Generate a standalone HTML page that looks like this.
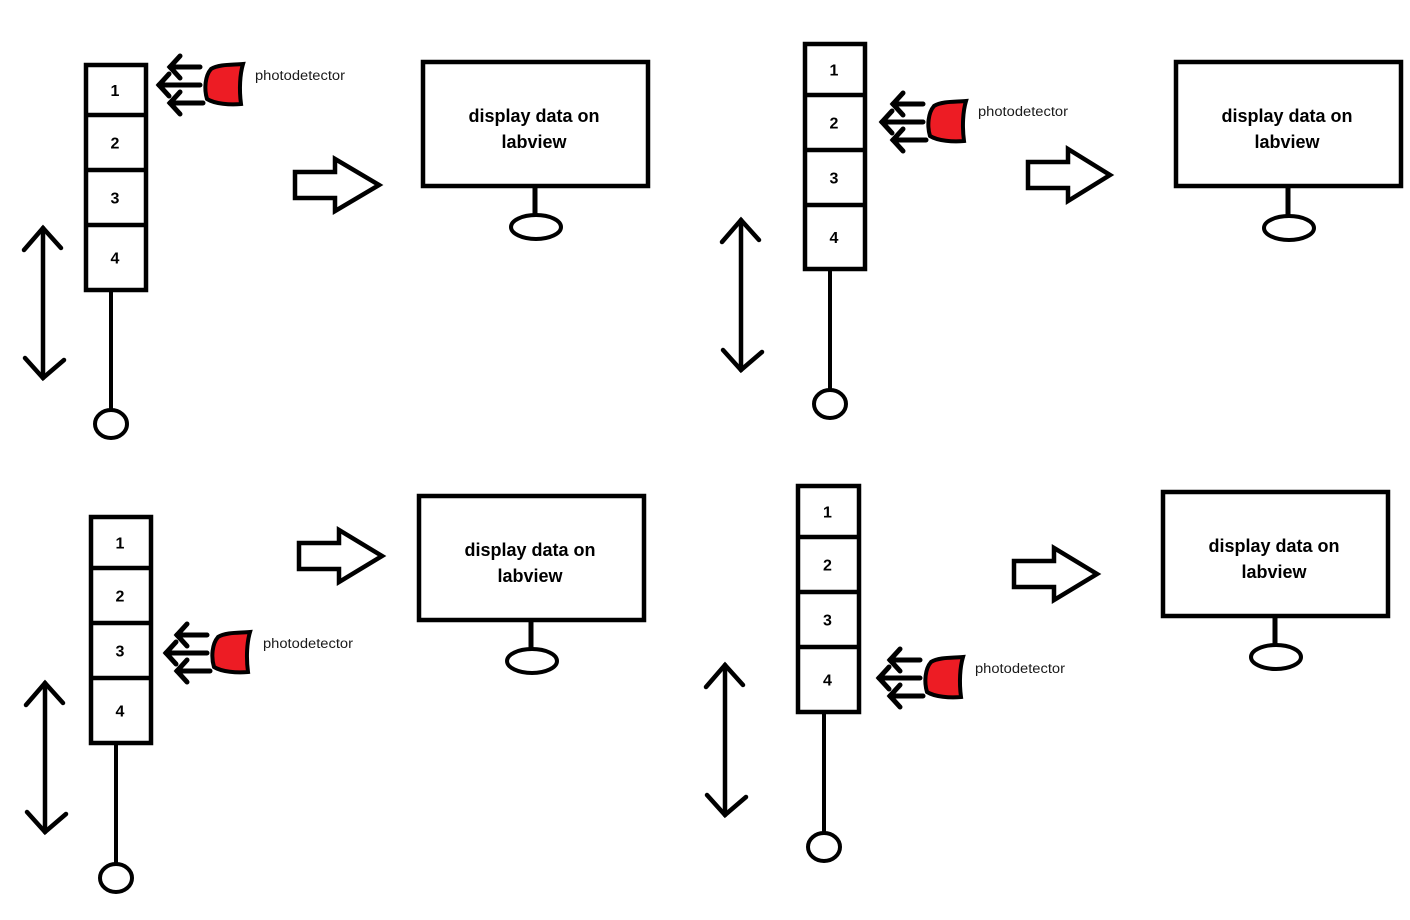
<!DOCTYPE html>
<html><head><style>
html,body{margin:0;padding:0;background:#fff;width:1410px;height:920px;overflow:hidden}
svg{display:block}
</style></head><body>
<svg id="s" width="1410" height="920" xmlns="http://www.w3.org/2000/svg" font-family="'Liberation Sans', sans-serif"></svg>
<script>
const S=document.getElementById('s');let h='';
function col(x1,x2,top,divs,bot,sx,sb,cy){
  h+=`<rect x="${x1}" y="${top}" width="${x2-x1}" height="${bot-top}" fill="#fff" stroke="#000" stroke-width="4.5"/>`;
  divs.forEach(d=>h+=`<line x1="${x1-2}" y1="${d}" x2="${x2+2}" y2="${d}" stroke="#000" stroke-width="4.5"/>`);
  const ys=[top,...divs,bot];
  for(let i=0;i<4;i++){h+=`<text x="${(x1+x2)/2-1}" y="${(ys[i]+ys[i+1])/2+6}" font-size="16" font-weight="bold" text-anchor="middle">${i+1}</text>`;}
  h+=`<line x1="${sx}" y1="${bot}" x2="${sx}" y2="${sb}" stroke="#000" stroke-width="4"/>`;
  h+=`<ellipse cx="${sx}" cy="${cy}" rx="16" ry="14" fill="none" stroke="#000" stroke-width="4"/>`;
}
function dbl(x,y1,y2){
  h+=`<g stroke="#000" stroke-width="4.5" fill="none" stroke-linecap="round"><line x1="${x}" y1="${y1}" x2="${x}" y2="${y2}"/><polyline points="${x-19},${y1+22} ${x},${y1} ${x+18},${y1+20}"/><polyline points="${x-18},${y2-20} ${x},${y2} ${x+21},${y2-18}"/></g>`;
}
function det(x,y,lx,ly){
  h+=`<path d="M${x+38},${y} C${x+35},${y+10} ${x+34},${y+25} ${x+36},${y+40} C${x+25},${y+41} ${x+10},${y+40} ${x+2},${y+35} C${x-1},${y+25} ${x},${y+12} ${x+6},${y+5} C${x+14},${y} ${x+28},${y+1} ${x+38},${y} Z" fill="#ed1c24" stroke="#000" stroke-width="4"/>`;
  const ar=[[y+3,x-5,x-35],[y+21,x-5,x-46],[y+39,x-2,x-35]];
  h+=`<g stroke="#000" stroke-width="5" fill="none" stroke-linecap="round">`;
  ar.forEach(([yy,a,b])=>{h+=`<line x1="${a}" y1="${yy}" x2="${b}" y2="${yy}"/><polyline points="${b+10},${yy-11} ${b},${yy} ${b+10},${yy+11}"/>`;});
  h+=`</g><text x="${lx}" y="${ly}" font-size="13.5" fill="#1a1a1a" textLength="90" lengthAdjust="spacingAndGlyphs">photodetector</text>`;
}
function big(x,cy,tip){
  h+=`<polygon points="${x},${cy-13} ${x+40},${cy-13} ${x+40},${cy-26} ${tip},${cy} ${x+40},${cy+26} ${x+40},${cy+13} ${x},${cy+13}" fill="#fff" stroke="#000" stroke-width="4.5" stroke-linejoin="miter"/>`;
}
function mon(x,y,ex,ey){
  h+=`<rect x="${x}" y="${y}" width="225" height="124" fill="#fff" stroke="#000" stroke-width="4.5"/>`;
  h+=`<line x1="${ex-1}" y1="${y+124}" x2="${ex-1}" y2="${ey-12}" stroke="#000" stroke-width="5"/>`;
  h+=`<ellipse cx="${ex}" cy="${ey}" rx="25" ry="12" fill="none" stroke="#000" stroke-width="4"/>`;
  h+=`<text x="${x+111}" y="${y+60}" font-size="18" font-weight="bold" text-anchor="middle">display data on</text>`;
  h+=`<text x="${x+111}" y="${y+86}" font-size="18" font-weight="bold" text-anchor="middle">labview</text>`;
}
col(86,146,65,[115,170,225],290,111,410,424);dbl(43,228,378);det(205,64,255,80);big(295,185,379);mon(423,62,536,227);
col(805,865,44,[95,150,205],269,830,390,404);dbl(741,220,370);det(928,101,978,116);big(1028,175,1110);mon(1176,62,1289,228);
col(91,151,517,[568,623,678],743,116,864,878);dbl(45,683,832);det(212,632,263,648);big(299,556,382);mon(419,496,532,661);
col(798,859,486,[537,592,647],712,824,833,847);dbl(725,665,815);det(925,657,975,673);big(1014,574,1097);mon(1163,492,1276,657);
S.innerHTML=h;
</script>
</body></html>
